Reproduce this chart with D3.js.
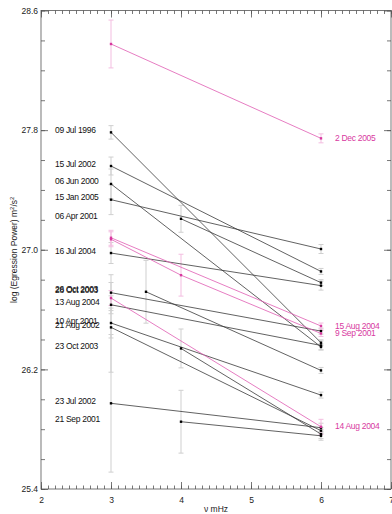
<!DOCTYPE html>
<html>
<head>
<meta charset="utf-8">
<script src="https://cdn.jsdelivr.net/npm/d3@7"></script>
<style>
  body { margin: 0; background: #fff; }
  svg { display: block; font-family: "Liberation Sans", Arial, sans-serif; }
</style>
</head>
<body>
<svg id="chart" width="392" height="514"></svg>
<script>
// black series, labelled on the left at their first point
const blackDates = ["09 Jul 1996", "15 Jul 2002", "06 Jun 2000", "15 Jan 2005", "06 Apr 2001",
    "16 Jul 2004", "28 Oct 2003", "26 Oct 2003", "13 Aug 2004", "10 Apr 2001",
    "21 Aug 2002", "23 Oct 2003", "23 Jul 2002", "21 Sep 2001"];
const blackFreq = [[3, 6], [3, 6], [3, 6], [3, 6], [4, 6], [3, 6], [3, 6], [3.5, 6],
    [3, 6], [3, 6], [3, 6], [4, 6], [3, 6], [4, 6]];
const blackPower = [[27.785, 26.378], [27.56, 26.855], [27.44, 26.35], [27.335, 27.005],
    [27.207, 26.78], [26.978, 26.76], [26.713, 26.456], [26.719, 26.193], [26.632, 26.36],
    [26.51, 26.028], [26.481, 25.79], [26.34, 25.767], [25.973, 25.81], [25.85, 25.756]];
const blackErr = [[0.045, 0.02], [0.06, 0.02], [0.1, 0.02], [0.1, 0.03], [0.09, 0.02],
    [0.07, 0.03], [0.12, 0.02], [0.21, 0.02], [0.06, 0.03], [0.1, 0.02], [0.3, 0.02],
    [0.13, 0.03], [0.46, 0.03], [0.21, 0.03]];

// pink series, labelled on the right at their last point
const pinkDates = ["2 Dec 2005", "15 Aug 2004", "9 Sep 2001", "14 Aug 2004"];
const pinkFreq = [[3, 6], [3, 6], [3, 4, 6], [3, 6]];
const pinkPower = [[28.376, 27.745], [27.08, 26.49], [27.07, 26.83, 26.44], [26.677, 25.816]];
const pinkErr = [[0.16, 0.03], [0.05, 0.02], [0.05, 0.14, 0.02], [0.05, 0.05]];

const xTicks = [2, 3, 4, 5, 6, 7];
const yTicks = [25.4, 26.2, 27.0, 27.8, 28.6];

const W = 392, H = 514;
const margin = { left: 41, top: 10.5, right: 1, bottom: 25 };
const fontSize = 8.5;
const pink = "#d8399f", pinkLine = "#e05cb2", pinkBar = "#f3bde0";

const svg = d3.select("#chart");

const x = d3.scaleLinear().domain([2, 7]).range([margin.left, W - margin.right]);
const y = d3.scaleLinear().domain([25.4, 28.6]).range([H - margin.bottom, margin.top]);

function toSeries(freqs, powers, errs) {
    return freqs.map((f, i) => f.map((v, j) => ({ f: v, p: powers[i][j], e: errs[i][j] })));
}
const black = toSeries(blackFreq, blackPower, blackErr);
const pinks = toSeries(pinkFreq, pinkPower, pinkErr);

// axes, ticks pointing inward on all four sides
const xMinor = d3.range(20, 71).map(d => d / 10);
const yMinor = d3.range(127, 144).map(d => d / 5);

function styleAxis(g) {
    g.select(".domain").remove();
    g.selectAll("line").attr("stroke", "#555").attr("stroke-width", 0.8);
    g.selectAll("text").attr("font-size", fontSize).attr("fill", "#222")
        .attr("font-family", "Liberation Sans, Arial, sans-serif");
}

const bottomY = H - margin.bottom, rightX = W - margin.right;

svg.append("g").attr("transform", `translate(0,${bottomY})`)
    .call(d3.axisBottom(x).tickValues(xMinor).tickSize(-3.5).tickFormat(""))
    .call(styleAxis);
svg.append("g").attr("transform", `translate(0,${bottomY})`)
    .call(d3.axisBottom(x).tickValues(xTicks).tickSize(-7).tickPadding(8).tickFormat(d3.format("d")))
    .call(styleAxis);
svg.append("g").attr("transform", `translate(0,${margin.top})`)
    .call(d3.axisTop(x).tickValues(xMinor).tickSize(-3.5).tickFormat(""))
    .call(styleAxis);
svg.append("g").attr("transform", `translate(0,${margin.top})`)
    .call(d3.axisTop(x).tickValues(xTicks).tickSize(-7).tickFormat(""))
    .call(styleAxis);

svg.append("g").attr("transform", `translate(${margin.left},0)`)
    .call(d3.axisLeft(y).tickValues(yMinor).tickSize(-4).tickFormat(""))
    .call(styleAxis);
svg.append("g").attr("transform", `translate(${margin.left},0)`)
    .call(d3.axisLeft(y).tickValues(yTicks).tickSize(-7).tickPadding(3).tickFormat(d3.format(".1f")))
    .call(styleAxis);
svg.append("g").attr("transform", `translate(${rightX},0)`)
    .call(d3.axisRight(y).tickValues(yMinor).tickSize(-4).tickFormat(""))
    .call(styleAxis);
svg.append("g").attr("transform", `translate(${rightX},0)`)
    .call(d3.axisRight(y).tickValues(yTicks).tickSize(-7).tickFormat(""))
    .call(styleAxis);

svg.append("rect")
    .attr("x", margin.left).attr("y", margin.top)
    .attr("width", rightX - margin.left).attr("height", bottomY - margin.top)
    .attr("fill", "none").attr("stroke", "#555").attr("stroke-width", 0.8);

// axis titles
svg.append("text")
    .attr("x", (margin.left + rightX) / 2).attr("y", H - 2)
    .attr("text-anchor", "middle").attr("font-size", fontSize).attr("fill", "#222")
    .text("\u03bd mHz");

const yTitle = svg.append("text")
    .attr("transform", `translate(17,${(margin.top + bottomY) / 2}) rotate(-90)`)
    .attr("text-anchor", "middle").attr("font-size", fontSize).attr("fill", "#222");
yTitle.append("tspan").text("log (Egression Power) m");
yTitle.append("tspan").attr("dy", -3).attr("font-size", 6).text("2");
yTitle.append("tspan").attr("dy", 3).text("/s");
yTitle.append("tspan").attr("dy", -3).attr("font-size", 6).text("2");

// error bars, drawn under the lines
function drawErrors(data, color) {
    const pts = data.flat();
    const g = svg.append("g").attr("stroke", color).attr("stroke-width", 1);
    g.selectAll(".bar").data(pts).join("line")
        .attr("x1", d => x(d.f)).attr("x2", d => x(d.f))
        .attr("y1", d => y(d.p - d.e)).attr("y2", d => y(d.p + d.e));
    g.selectAll(".capHi").data(pts).join("line")
        .attr("x1", d => x(d.f) - 2.5).attr("x2", d => x(d.f) + 2.5)
        .attr("y1", d => y(d.p + d.e)).attr("y2", d => y(d.p + d.e));
    g.selectAll(".capLo").data(pts).join("line")
        .attr("x1", d => x(d.f) - 2.5).attr("x2", d => x(d.f) + 2.5)
        .attr("y1", d => y(d.p - d.e)).attr("y2", d => y(d.p - d.e));
}
drawErrors(black, "#cfcfcf");
drawErrors(pinks, pinkBar);

const line = d3.line().x(d => x(d.f)).y(d => y(d.p));

function drawSeries(data, stroke, dot) {
    svg.append("g").selectAll("path").data(data).join("path")
        .attr("d", line).attr("fill", "none")
        .attr("stroke", stroke).attr("stroke-width", 0.8);
    svg.append("g").selectAll("rect").data(data.flat()).join("rect")
        .attr("x", d => x(d.f) - 1.2).attr("y", d => y(d.p) - 1.2)
        .attr("width", 2.4).attr("height", 2.4).attr("fill", dot);
}
drawSeries(black, "#3a3a3a", "#000");
drawSeries(pinks, pinkLine, pink);

// date labels
svg.append("g").selectAll("text").data(black).join("text")
    .attr("x", 55).attr("y", d => y(d[0].p) + 0.5)
    .attr("font-size", fontSize).attr("letter-spacing", -0.3).attr("fill", "#111")
    .text((d, i) => blackDates[i]);

svg.append("g").selectAll("text").data(pinks).join("text")
    .attr("x", 335).attr("y", d => y(d[d.length - 1].p) + 2.5)
    .attr("font-size", fontSize).attr("letter-spacing", -0.3).attr("fill", pink)
    .text((d, i) => pinkDates[i]);
</script>
</body>
</html>
